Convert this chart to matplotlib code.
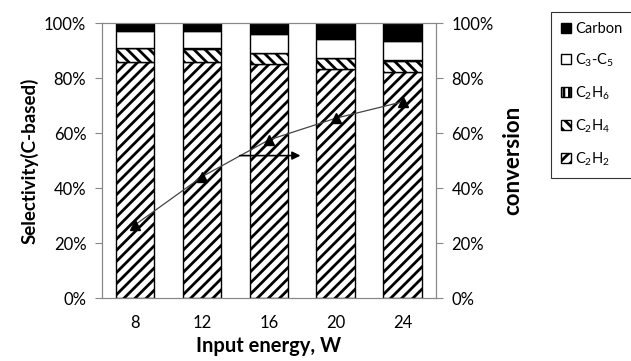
import matplotlib
matplotlib.use("Agg")
import matplotlib.pyplot as plt
from matplotlib.patches import Patch
import numpy as np

plt.rcParams['font.family'] = ['Lato', 'DejaVu Sans']
plt.rcParams['hatch.linewidth'] = 2.0
plt.rcParams['mathtext.fontset'] = 'custom'
plt.rcParams['mathtext.rm'] = 'Lato'

energy = ['8', '12', '16', '20', '24']
c2h2 = [86.0, 85.8, 85.1, 83.6, 82.2]
c2h4 = [4.9, 4.9, 4.0, 3.7, 4.2]
c2h6 = [0.2, 0.2, 0.2, 0.2, 0.2]
c3c5 = [6.1, 6.3, 6.8, 6.7, 7.1]
carbon = [2.8, 2.8, 3.9, 5.8, 6.3]
conversion = [26.7, 44.2, 57.6, 65.5, 71.5]

series = [
    ('C$_2$H$_2$', c2h2, 'white', '///'),
    ('C$_2$H$_4$', c2h4, 'white', '\\\\\\'),
    ('C$_2$H$_6$', c2h6, 'white', '|||'),
    ('C$_3$-C$_5$', c3c5, 'white', ''),
    ('Carbon', carbon, 'black', ''),
]

fig = plt.figure(figsize=(6.31, 3.61), dpi=100)
ax = fig.add_axes([0.161, 0.174, 0.530, 0.761])
x = np.arange(len(energy))
bottom = np.zeros(len(energy))
for name, vals, fc, h in series:
    ax.bar(x, vals, bottom=bottom, width=0.575, color=fc, edgecolor='black',
           hatch=h, linewidth=1.0, label=name)
    bottom += np.array(vals)

ax.set_xlim(-0.5, len(energy) - 0.5)
ax.set_ylim(0, 100)
ax.set_yticks(np.arange(0, 101, 20))
ax.set_yticklabels([f'{v}%' for v in range(0, 101, 20)], fontsize=12)
ax.set_xticks(x)
ax.set_xticklabels(energy, fontsize=12)
ax.tick_params(axis='x', length=0, pad=12)
ax.tick_params(axis='y', length=5, color='#888888', pad=6)
for s in ax.spines.values():
    s.set_color('#888888')
ax.set_ylabel('Selectivity(C-based)', fontsize=13.5, fontweight='bold', labelpad=4)
ax.set_xlabel('Input energy, W', fontsize=14.5, fontweight='bold', labelpad=4)

ax2 = ax.twinx()
ax2.plot(x, conversion, color='#444444', linewidth=0.9, marker='^',
         markersize=7, markerfacecolor='black', markeredgecolor='black')
ax2.set_ylim(0, 100)
ax2.set_yticks(np.arange(0, 101, 20))
ax2.set_yticklabels([f'{v}%' for v in range(0, 101, 20)], fontsize=12)
ax2.tick_params(axis='y', length=5, color='#888888', pad=6)
for s in ax2.spines.values():
    s.set_color('#888888')
ax2.set_ylabel('conversion', fontsize=16, fontweight='bold', labelpad=6)

ax2.annotate('', xy=(0.603, 0.519), xytext=(0.405, 0.519), xycoords='axes fraction',
             textcoords='axes fraction',
             arrowprops=dict(arrowstyle='-|>', color='black', lw=1.2, mutation_scale=12))

handles = [Patch(facecolor=fc, edgecolor='black', hatch=h, label=n)
           for n, v, fc, h in series][::-1]
leg = fig.legend(handles=handles, loc='upper left', bbox_to_anchor=(0.873, 0.967),
                 fontsize=10.5, frameon=True, fancybox=False, edgecolor='black',
                 handlelength=0.7, handleheight=0.7, handletextpad=0.25,
                 labelspacing=1.05, borderpad=0.7, borderaxespad=0)
leg.get_frame().set_linewidth(0.8)

fig.savefig('out.png', dpi=100)
